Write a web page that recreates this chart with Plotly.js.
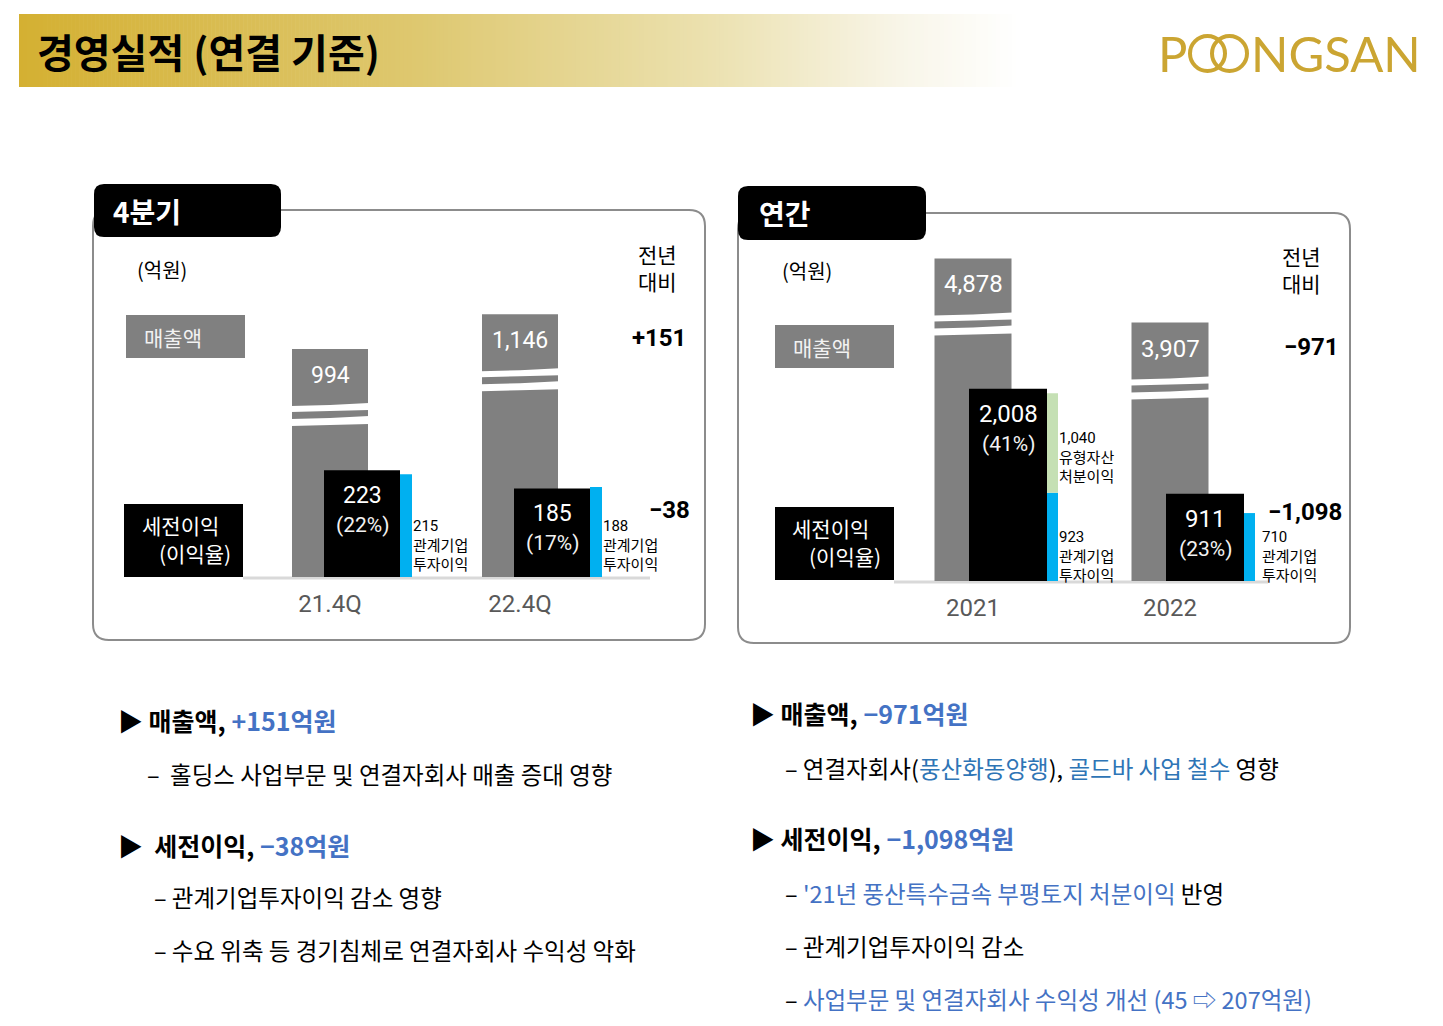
<!DOCTYPE html>
<html><head><meta charset="utf-8">
<script src="https://cdn.plot.ly/plotly-3.0.1.min.js"></script>
<style>html,body{margin:0;padding:0;background:#fff}#chart{width:1443px;height:1026px}</style>
</head><body><div id="chart"></div>
<script>
// ---------- data ----------
const qCats = ['21.4Q', '22.4Q'];
const qRevenue = [994, 1146];
const qPretax = [223, 185];
const qMargin = ['22%', '17%'];
const qAffiliate = [215, 188];
const qYoY = ['+151', '\u221238'];

const yCats = ['2021', '2022'];
const yRevenue = [4878, 3907];
const yPretax = [2008, 911];
const yMargin = ['41%', '23%'];
const yAffiliate = [923, 710];
const yAssetGain = [1040, 0];
const yYoY = ['\u2212971', '\u22121,098'];

// ---------- helpers ----------
const W = 1443, H = 1026;
const X = v => v / W, Y = v => 1 - v / H;
const KR = "'Noto Sans CJK KR', 'Noto Sans', sans-serif";
const NUM = "Roboto, 'Noto Sans CJK KR', sans-serif";
const BLUE = '#4472C4', BLUE2 = '#2E75B6';
const GOLD = '#CBA532';
const fmt = v => v.toLocaleString('en-US');

function rr(x0, y0, x1, y1, r) {
  const p = (x, y) => X(x) + ',' + Y(y);
  return `M${p(x0 + r, y0)} L${p(x1 - r, y0)} Q${p(x1, y0)} ${p(x1, y0 + r)} L${p(x1, y1 - r)} Q${p(x1, y1)} ${p(x1 - r, y1)} L${p(x0 + r, y1)} Q${p(x0, y1)} ${p(x0, y1 - r)} L${p(x0, y0 + r)} Q${p(x0, y0)} ${p(x0 + r, y0)} Z`;
}
function txt(x, y, text, size, color, o) {
  o = o || {};
  return Object.assign({
    xref: 'paper', yref: 'paper', x: X(x), y: Y(y), text: text, showarrow: false,
    xanchor: 'left', yanchor: 'middle', align: 'left',
    font: { family: KR, size: size, color: color }
  }, o);
}

const panels = [
  { cats: qCats, rev: qRevenue, pre: qPretax, mar: qMargin, aff: qAffiliate, gain: null, yoy: qYoY,
    xa: 'x', ya: 'y', yb: 'y2', xn: 'xaxis', yn: 'yaxis', ybn: 'yaxis2',
    dom: [100, 700], c0: 330, unit: 190, base: 577, top: 250, revPx: 4.36, prePx: 2.09,
    half: 38, bL: -6, bW: 76, uW: 12,
    frame: [93, 210, 705, 640], tab: [94, 184, 281, 237], tabText: '4분기', tabPos: [111, 211],
    unitPos: [135, 269], yoyHead: [657, 267], revBox: [126, 315, 245, 358], revText: [142, 337],
    preBox: [124, 504, 243, 577], preT1: [140, 525], preT2: [157, 553], line: [243, 650],
    yoyRight: [688, 692], yoyShift: -22, valSize: 23, labShift: 1 },
  { cats: yCats, rev: yRevenue, pre: yPretax, mar: yMargin, aff: yAffiliate, gain: yAssetGain, yoy: yYoY,
    xa: 'x2', ya: 'y3', yb: 'y4', xn: 'xaxis2', yn: 'yaxis3', ybn: 'yaxis4',
    dom: [745, 1345], c0: 973, unit: 197, base: 581, top: 250, revPx: 15.12, prePx: 10.45,
    half: 38.5, bL: -4, bW: 78, uW: 11,
    frame: [738, 213, 1350, 643], tab: [738, 186, 926, 240], tabText: '연간', tabPos: [757, 213],
    unitPos: [780, 271], yoyHead: [1301, 270], revBox: [775, 325, 894, 368], revText: [791, 347],
    preBox: [775, 507, 894, 580], preT1: [790, 528], preT2: [807, 556], line: [894, 1268],
    yoyRight: [1341, 1344], yoyShift: -18, valSize: 24, labShift: -6 }
];

const traces = [], shapes = [], annotations = [];
const layout = {
  width: W, height: H, margin: { l: 0, r: 0, t: 0, b: 0 },
  paper_bgcolor: '#fff', plot_bgcolor: 'rgba(0,0,0,0)',
  showlegend: false, barmode: 'overlay', hovermode: false
};

// header gradient band
(function () {
  const stops = [[0, [212, 176, 50]], [0.4, [222, 200, 112]], [0.7, [236, 226, 178]], [0.88, [248, 245, 232]], [1, [255, 255, 255]]];
  const col = t => {
    for (let k = 1; k < stops.length; k++) {
      if (t <= stops[k][0]) {
        const a = stops[k - 1], b = stops[k], f = (t - a[0]) / (b[0] - a[0]);
        const c = a[1].map((v, j) => Math.round(v + (b[1][j] - v) * f));
        return `rgb(${c[0]},${c[1]},${c[2]})`;
      }
    }
    return '#fff';
  };
  const x0 = 19, x1 = 1020, n = 250, step = (x1 - x0) / n;
  for (let i = 0; i < n; i++) {
    shapes.push({ type: 'rect', xref: 'paper', yref: 'paper', layer: 'below',
      x0: X(x0 + i * step), x1: X(x0 + (i + 1) * step + 0.6), y0: Y(87), y1: Y(14),
      line: { width: 0 }, fillcolor: col((i + 0.5) / n) });
  }
})();
annotations.push(txt(35, 51, '<b>경영실적 (연결 기준)</b>', 40, '#000'));
// logo: P, interlocking rings, NGSAN
const LOGO = { family: 'Lato, Roboto, sans-serif', size: 49, color: GOLD };
annotations.push(txt(1156, 53, 'P', 49, GOLD, { font: LOGO }));
shapes.push({ type: 'circle', xref: 'paper', yref: 'paper', layer: 'above',
  x0: X(1190), x1: X(1225), y0: Y(71), y1: Y(36), line: { color: GOLD, width: 4 }, fillcolor: 'rgba(0,0,0,0)' });
shapes.push({ type: 'circle', xref: 'paper', yref: 'paper', layer: 'above',
  x0: X(1212), x1: X(1247), y0: Y(71), y1: Y(36), line: { color: GOLD, width: 4 }, fillcolor: 'rgba(0,0,0,0)' });
annotations.push(txt(1249, 53, 'NGSAN', 49, GOLD, { font: LOGO }));

panels.forEach((p, k) => {
  const idx = p.cats.map((_, i) => i);
  const revMax = (p.base - p.top) * p.revPx, preMax = (p.base - p.top) * p.prePx;
  layout[p.xn] = {
    domain: [X(p.dom[0]), X(p.dom[1])], range: [(p.dom[0] - p.c0) / p.unit, (p.dom[1] - p.c0) / p.unit],
    anchor: p.ya, tickmode: 'array', tickvals: idx, ticktext: p.cats,
    showgrid: false, zeroline: false, showline: false, ticks: '', ticklabelstandoff: 10,
    tickfont: { family: 'Roboto, sans-serif', size: 24, color: '#595959' }, fixedrange: true
  };
  layout[p.yn] = { domain: [Y(p.base), Y(p.top)], range: [0, revMax], anchor: p.xa, visible: false, fixedrange: true };
  layout[p.ybn] = { domain: [Y(p.base), Y(p.top)], range: [0, preMax], overlaying: p.ya, anchor: p.xa, visible: false, fixedrange: true };

  // frame and tab
  shapes.push({ type: 'path', xref: 'paper', yref: 'paper', layer: 'below', path: rr(...p.frame, 16),
    line: { color: '#8c8c8c', width: 2 }, fillcolor: 'rgba(0,0,0,0)' });
  shapes.push({ type: 'path', xref: 'paper', yref: 'paper', layer: 'below', path: rr(...p.tab, 10),
    line: { width: 0 }, fillcolor: '#000' });
  // legend-like boxes
  shapes.push({ type: 'rect', xref: 'paper', yref: 'paper', layer: 'below',
    x0: X(p.revBox[0]), x1: X(p.revBox[2]), y0: Y(p.revBox[3]), y1: Y(p.revBox[1]), line: { width: 0 }, fillcolor: '#808080' });
  shapes.push({ type: 'rect', xref: 'paper', yref: 'paper', layer: 'below',
    x0: X(p.preBox[0]), x1: X(p.preBox[2]), y0: Y(p.preBox[3]), y1: Y(p.preBox[1]), line: { width: 0 }, fillcolor: '#000' });
  // baseline
  shapes.push({ type: 'line', xref: 'paper', yref: 'paper', layer: 'below',
    x0: X(p.line[0]), x1: X(p.line[1]), y0: Y(p.base + 1), y1: Y(p.base + 1), line: { color: '#d9d9d9', width: 3 } });

  annotations.push(txt(p.tabPos[0], p.tabPos[1], '<b>' + p.tabText + '</b>', 28, '#fff'));
  annotations.push(txt(p.unitPos[0], p.unitPos[1], '(억원)', 20, '#000'));
  annotations.push(txt(p.yoyHead[0], p.yoyHead[1], '전년<br>대비', 21, '#000', { xanchor: 'center', align: 'center' }));
  annotations.push(txt(p.revText[0], p.revText[1], '매출액', 21, '#f2f2f2'));
  annotations.push(txt(p.preT1[0], p.preT1[1], '세전이익', 21, '#fff'));
  annotations.push(txt(p.preT2[0], p.preT2[1], '(이익율)', 21, '#fff'));

  // bars
  traces.push({ type: 'bar', x: idx, y: p.rev, xaxis: p.xa, yaxis: p.ya, offset: -p.half / p.unit, width: 2 * p.half / p.unit,
    marker: { color: '#808080', line: { width: 0 } }, hoverinfo: 'skip' });
  traces.push({ type: 'bar', x: idx, y: p.pre, xaxis: p.xa, yaxis: p.yb, offset: p.bL / p.unit, width: p.bW / p.unit,
    marker: { color: '#000', line: { width: 0 } }, hoverinfo: 'skip' });
  traces.push({ type: 'bar', x: idx, y: p.aff, xaxis: p.xa, yaxis: p.yb, offset: (p.bL + p.bW) / p.unit, width: p.uW / p.unit,
    marker: { color: '#00B0F0', line: { width: 0 } }, hoverinfo: 'skip' });
  if (p.gain) {
    traces.push({ type: 'bar', x: idx, y: p.gain, base: p.aff, xaxis: p.xa, yaxis: p.yb, offset: (p.bL + p.bW) / p.unit, width: p.uW / p.unit,
      marker: { color: '#C5E0B4', line: { width: 0 } }, hoverinfo: 'skip' });
  }

  idx.forEach(i => {
    // axis break on revenue bars
    const xl = i - (p.half + 1) / p.unit, xr = i + (p.half + 1) / p.unit;
    const yv = d => p.rev[i] - d * p.revPx;
    [[55, 62], [68, 76]].forEach(b => {
      shapes.push({ type: 'path', xref: p.xa, yref: p.ya, layer: 'above',
        path: `M${xl},${yv(b[0] + 2)} L${i},${yv(b[0] + 1)} L${xr},${yv(b[0] - 1)} L${xr},${yv(b[1] - 1)} L${i},${yv(b[1])} L${xl},${yv(b[1] + 1)} Z`,
        line: { width: 0 }, fillcolor: '#fff' });
    });
    // revenue value
    annotations.push({ xref: p.xa, yref: p.ya, x: i, y: p.rev[i], yshift: -26, text: fmt(p.rev[i]), showarrow: false,
      xanchor: 'center', yanchor: 'middle', font: { family: NUM, size: p.valSize, color: '#fff' } });
    // pretax value and margin
    const bc = i + (p.bL + p.bW / 2) / p.unit;
    annotations.push({ xref: p.xa, yref: p.yb, x: bc, y: p.pre[i], yshift: -25, text: fmt(p.pre[i]), showarrow: false,
      xanchor: 'center', yanchor: 'middle', font: { family: NUM, size: p.valSize, color: '#fff' } });
    annotations.push({ xref: p.xa, yref: p.yb, x: bc, y: p.pre[i], yshift: -55, text: '(' + p.mar[i] + ')', showarrow: false,
      xanchor: 'center', yanchor: 'middle', font: { family: NUM, size: 21, color: '#f2f2f2' } });
    // affiliate label
    const lx = i + (p.bL + p.bW + p.uW) / p.unit;
    annotations.push({ xref: p.xa, yref: p.yb, x: lx, y: 0, yshift: p.labShift, xshift: (k === 1 && i === 1) ? 5 : -1,
      text: fmt(p.aff[i]) + '<br>관계기업<br>투자이익', showarrow: false, xanchor: 'left', yanchor: 'bottom', align: 'left',
      font: { family: NUM, size: 15, color: '#000' } });
    if (p.gain && p.gain[i] > 0) {
      annotations.push({ xref: p.xa, yref: p.yb, x: lx, y: p.aff[i], yshift: 5, xshift: -1,
        text: fmt(p.gain[i]) + '<br>유형자산<br>처분이익', showarrow: false, xanchor: 'left', yanchor: 'bottom', align: 'left',
        font: { family: NUM, size: 15, color: '#000' } });
    }
  });
  // year-over-year
  annotations.push({ xref: 'paper', yref: p.ya, x: X(p.yoyRight[0]), y: p.rev[1], yshift: -24, text: '<b>' + p.yoy[0] + '</b>',
    showarrow: false, xanchor: 'right', yanchor: 'middle', font: { family: NUM, size: 24, color: '#000' } });
  annotations.push({ xref: 'paper', yref: p.yb, x: X(p.yoyRight[1]), y: p.pre[1], yshift: p.yoyShift, text: '<b>' + p.yoy[1] + '</b>',
    showarrow: false, xanchor: 'right', yanchor: 'middle', font: { family: NUM, size: 24, color: '#000' } });
});

// ---------- commentary ----------
const b = s => `<span style="color:${BLUE}">${s}</span>`;
const b2 = s => `<span style="color:${BLUE2}">${s}</span>`;
const HS = 25, SS = 23.5;
annotations.push(txt(116, 720, `▶ <b>매출액, ${b(qYoY[0] + '억원')}</b>`, HS, '#000'));
annotations.push(txt(145, 774, '–  홀딩스 사업부문 및 연결자회사 매출 증대 영향', SS, '#000'));
annotations.push(txt(116, 845, `▶  <b>세전이익, ${b(qYoY[1] + '억원')}</b>`, HS, '#000'));
annotations.push(txt(152, 897, '– 관계기업투자이익 감소 영향', SS, '#000'));
annotations.push(txt(152, 950, '– 수요 위축 등 경기침체로 연결자회사 수익성 악화', SS, '#000'));

annotations.push(txt(748, 713, `▶ <b>매출액, ${b(yYoY[0] + '억원')}</b>`, HS, '#000'));
annotations.push(txt(783, 768, `– 연결자회사(${b2('풍산화동양행')}), ${b2('골드바 사업 철수')} 영향`, SS, '#000'));
annotations.push(txt(748, 838, `▶ <b>세전이익, ${b(yYoY[1] + '억원')}</b>`, HS, '#000'));
annotations.push(txt(783, 893, `– ${b("'21년 풍산특수금속 부평토지 처분이익")} 반영`, SS, '#000'));
annotations.push(txt(783, 946, '– 관계기업투자이익 감소', SS, '#000'));
annotations.push(txt(783, 999, `– ${b('사업부문 및 연결자회사 수익성 개선 (45 ⇨ 207억원)')}`, SS, '#000'));

layout.shapes = shapes;
layout.annotations = annotations;
Plotly.newPlot('chart', traces, layout, { staticPlot: true, displayModeBar: false });
</script>
</body></html>
